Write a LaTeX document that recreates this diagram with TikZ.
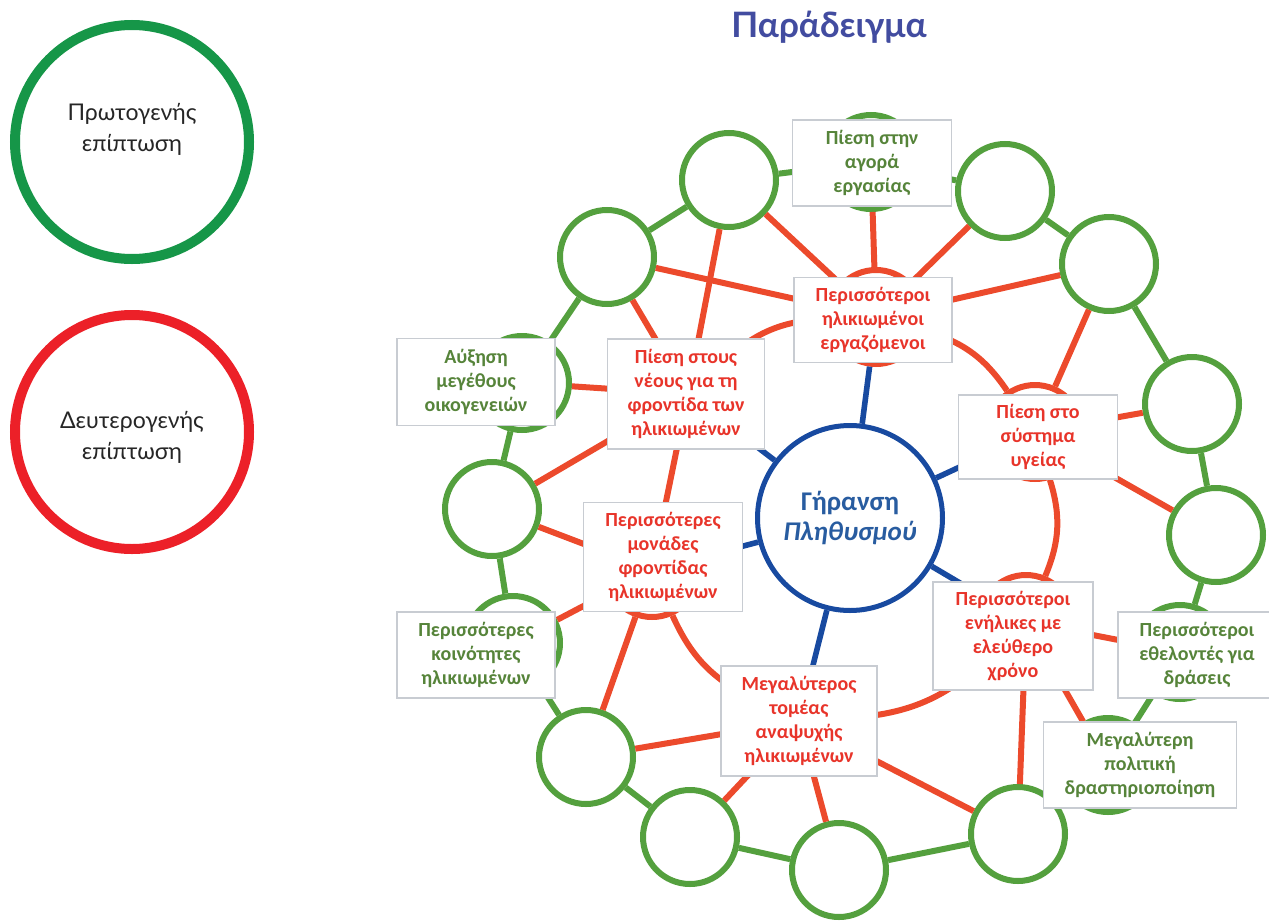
\documentclass[tikz,border=0pt]{standalone}
\usepackage{fontspec}
\setmainfont{Carlito}
\newfontfamily\legendfont{Lato}
\definecolor{ringgreen}{RGB}{84,160,62}
\definecolor{textgreen}{RGB}{86,132,58}
\definecolor{linered}{RGB}{236,74,44}
\definecolor{textred}{RGB}{232,52,42}
\definecolor{coreblue}{RGB}{24,74,160}
\definecolor{textblue}{RGB}{40,92,160}
\definecolor{boxgray}{RGB}{200,204,210}
\definecolor{legendgreen}{RGB}{22,150,72}
\definecolor{legendred}{RGB}{236,32,40}
\definecolor{titleblue}{RGB}{66,76,160}

\begin{document}
\begin{tikzpicture}[x=0.5pt, y=-0.5pt]
            \tikzstyle{primary}=[circle,draw=ringgreen,fill=white,line width=3pt,minimum size=47pt,inner sep=0pt]
            \tikzstyle{secondary}=[circle,draw=linered,fill=white,line width=3pt,minimum size=47pt,inner sep=0pt]
            \tikzstyle{core}=[circle,draw=coreblue,fill=white,line width=2.5pt,minimum size=92.5pt,inner sep=0pt,text=textblue,align=center,font=\fontsize{13.5}{15}\selectfont\bfseries]
            \tikzstyle{greenbox}=[rectangle,draw=boxgray,fill=white,line width=0.8pt,inner sep=0pt,align=center,text=textgreen,font=\fontsize{10}{12}\selectfont\bfseries]
            \tikzstyle{redbox}=[greenbox,text=textred]
            \tikzstyle{ring}=[draw=ringgreen,line width=3pt]
            \tikzstyle{effect}=[draw=linered,line width=3pt]
            \tikzstyle{spoke}=[draw=coreblue,line width=2.8pt]
            \tikzstyle{legend}=[circle,fill=white,line width=5pt,minimum size=117pt,inner sep=0pt]
            \tikzstyle{legendtext}=[align=center,text=black!85,font=\legendfont\fontsize{11.5}{15.5}\selectfont]

            \useasboundingbox (0,0) rectangle (1269,921);

            \node[legend,draw=legendgreen] (first) at (132,142) {};
            \node[legendtext] (first text) at (132,129) {Πρωτογενής\\επίπτωση};
            \node[legend,draw=legendred] (second) at (132,432) {};
            \node[legendtext] (second text) at (132,437) {Δευτερογενής\\επίπτωση};
            \node[text=titleblue,font=\legendfont\bfseries\fontsize{17.5}{20}\selectfont] (title) at (829,27) {Παράδειγμα};

            \node[primary] (P_1) at (522,383) {};
            \node[primary] (G_1) at (607,257) {};
            \node[primary] (G_2) at (729,180) {};
            \node[primary] (P_2) at (871,162) {};
            \node[primary] (G_3) at (1005,191) {};
            \node[primary] (G_4) at (1109,264) {};
            \node[primary] (G_5) at (1192,404) {};
            \node[primary] (G_6) at (1216,535) {};
            \node[primary] (P_3) at (1180,652) {};
            \node[primary] (P_4) at (1108,765) {};
            \node[primary] (G_7) at (1018,834) {};
            \node[primary] (G_8) at (839,870) {};
            \node[primary] (G_9) at (690,837) {};
            \node[primary] (G_10) at (586,757) {};
            \node[primary] (P_5) at (513,643) {};
            \node[primary] (G_11) at (492,509) {};

            \node[secondary] (R_1) at (876,317) {};
            \node[secondary] (R_2) at (688,394) {};
            \node[secondary] (R_3) at (1035,432) {};
            \node[secondary] (R_4) at (652,570) {};
            \node[secondary] (R_5) at (1026,622) {};
            \node[secondary] (R_6) at (799,721) {};

            \node[core] (C) at (850,518) {Γήρανση\\\textit{Πληθυσμού}};

            \draw[ring] (P_1) -- (G_1) -- (G_2) -- (P_2) -- (G_3) -- (G_4) -- (G_5) -- (G_6) -- (P_3) -- (P_4) -- (G_7) -- (G_8) -- (G_9) -- (G_10) -- (P_5) -- (G_11) -- (P_1);

            \draw[effect] (R_1) -- (P_2) (R_1) -- (G_2) (R_1) -- (G_3) (R_1) -- (G_1) (R_1) -- (G_4);
            \draw[effect] (R_2) -- (G_2) (R_2) -- (G_1) (R_2) -- (P_1) (R_2) -- (G_11) (R_2) -- (R_4);
            \draw[effect] (R_4) -- (G_11) (R_4) -- (P_5) (R_4) -- (G_10);
            \draw[effect] (R_6) -- (G_10) (R_6) -- (G_9) (R_6) -- (G_8) (R_6) -- (G_7);
            \draw[effect] (R_5) -- (G_7) (R_5) -- (P_4) (R_5) -- (P_3);
            \draw[effect] (R_3) -- (G_4) (R_3) -- (G_5) (R_3) -- (G_6);
            \draw[effect] (R_1) to[bend right=20] (R_2);
            \draw[effect] (R_1) to[bend left=20] (R_3);
            \draw[effect] (R_3) to[bend left=20] (R_5);
            \draw[effect] (R_4) to[bend right=20] (R_6);
            \draw[effect] (R_6) to[bend right=20] (R_5);

            \draw[spoke] (C) -- (R_1) (C) -- (R_2) (C) -- (R_3) (C) -- (R_4) (C) -- (R_5) (C) -- (R_6);

            \node[greenbox,minimum width=79.5pt,minimum height=43pt] (B_1) at (872,163) {Πίεση στην\\αγορά\\εργασίας};
            \node[greenbox,minimum width=79pt,minimum height=43.5pt] (B_2) at (476,382) {Αύξηση\\μεγέθους\\οικογενειών};
            \node[greenbox,minimum width=79pt,minimum height=43pt] (B_3) at (476,655) {Περισσότερες\\κοινότητες\\ηλικιωμένων};
            \node[greenbox,minimum width=79pt,minimum height=43pt] (B_4) at (1197,655) {Περισσότεροι\\εθελοντές για\\δράσεις};
            \node[greenbox,minimum width=96.5pt,minimum height=43pt] (B_5) at (1140,765) {Μεγαλύτερη\\πολιτική\\δραστηριοποίηση};

            \node[redbox,minimum width=79pt,minimum height=42.5pt] (B_6) at (873,320) {Περισσότεροι\\ηλικιωμένοι\\εργαζόμενοι};
            \node[redbox,minimum width=78.5pt,minimum height=55pt] (B_7) at (686,394) {Πίεση στους\\νέους για τη\\φροντίδα των\\ηλικιωμένων};
            \node[redbox,minimum width=79.5pt,minimum height=42pt] (B_8) at (1038,437) {Πίεση στο\\σύστημα\\υγείας};
            \node[redbox,minimum width=79.5pt,minimum height=54.5pt] (B_9) at (663,557) {Περισσότερες\\μονάδες\\φροντίδας\\ηλικιωμένων};
            \node[redbox,minimum width=80pt,minimum height=54pt] (B_10) at (1013,636) {Περισσότεροι\\ενήλικες με\\ελεύθερο\\χρόνο};
            \node[redbox,minimum width=78pt,minimum height=55pt] (B_11) at (799,721) {Μεγαλύτερος\\τομέας\\αναψυχής\\ηλικιωμένων};
        \end{tikzpicture}
\end{document}
